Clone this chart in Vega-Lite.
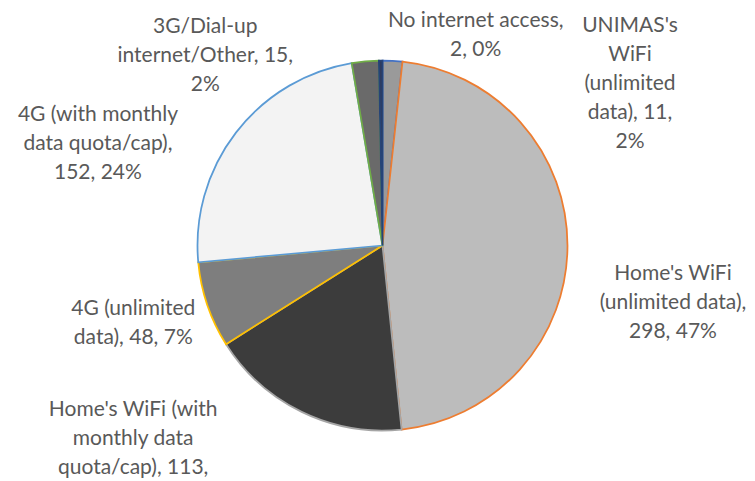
{
  "$schema": "https://vega.github.io/schema/vega-lite/v6.json",
  "width": 745,
  "height": 467,
  "autosize": "none",
  "padding": {"left": 10, "top": 12, "right": 0, "bottom": 0},
  "background": "white",
  "view": {"stroke": null},
  "data": {
    "values": [
      {"idx": 1, "cat": "UNIMAS's WiFi (unlimited data)", "count": 11, "label": ["UNIMAS's", "WiFi", "(unlimited", "data), 11,", "2%"]},
      {"idx": 2, "cat": "Home's WiFi (unlimited data)", "count": 298, "label": ["Home's WiFi", "(unlimited data),", "298, 47%"]},
      {"idx": 3, "cat": "Home's WiFi (with monthly data quota/cap)", "count": 113, "label": ["Home's WiFi (with", "monthly data", "quota/cap), 113,"]},
      {"idx": 4, "cat": "4G (unlimited data)", "count": 48, "label": ["4G (unlimited", "data), 48, 7%"]},
      {"idx": 5, "cat": "4G (with monthly data quota/cap)", "count": 152, "label": ["4G (with monthly", "data quota/cap),", "152, 24%"]},
      {"idx": 6, "cat": "3G/Dial-up internet/Other", "count": 15, "label": ["3G/Dial-up", "internet/Other, 15,", "2%"]},
      {"idx": 7, "cat": "No internet access", "count": 2, "label": ["No internet access,", "2, 0%"]}
    ]
  },
  "encoding": {
    "theta": {"field": "count", "type": "quantitative", "stack": true},
    "order": {"field": "idx", "type": "quantitative"}
  },
  "layer": [
    {
      "mark": {"type": "arc", "outerRadius": 185, "strokeWidth": 1.75, "strokeJoin": "miter"},
      "encoding": {
        "fill": {
          "field": "cat", "type": "nominal", "legend": null,
          "scale": {
            "domain": ["UNIMAS's WiFi (unlimited data)", "Home's WiFi (unlimited data)", "Home's WiFi (with monthly data quota/cap)", "4G (unlimited data)", "4G (with monthly data quota/cap)", "3G/Dial-up internet/Other", "No internet access"],
            "range": ["#9a9a9a", "#bcbcbc", "#3c3c3c", "#7e7e7e", "#f3f3f3", "#6a6a6a", "#2e3b5e"]
          }
        },
        "stroke": {
          "field": "cat", "type": "nominal", "legend": null,
          "scale": {
            "domain": ["UNIMAS's WiFi (unlimited data)", "Home's WiFi (unlimited data)", "Home's WiFi (with monthly data quota/cap)", "4G (unlimited data)", "4G (with monthly data quota/cap)", "3G/Dial-up internet/Other", "No internet access"],
            "range": ["#4472c4", "#ed7d31", "#a5a5a5", "#ffc000", "#5b9bd5", "#70ad47", "#264478"]
          }
        }
      }
    },
    {
      "mark": {"type": "text", "radius": 185, "dx": 237.5, "dy": -35, "font": "Lato", "fontSize": 21, "lineHeight": 29, "fill": "#595959", "align": "center", "baseline": "middle"},
      "encoding": {"text": {"condition": {"test": "datum.idx === 1", "field": "label"}, "value": ""}}
    },
    {
      "mark": {"type": "text", "radius": 185, "dx": 105.5, "dy": 28.5, "font": "Lato", "fontSize": 21, "lineHeight": 29, "fill": "#595959", "align": "center", "baseline": "middle"},
      "encoding": {"text": {"condition": {"test": "datum.idx === 2", "field": "label"}, "value": ""}}
    },
    {
      "mark": {"type": "text", "radius": 185, "dx": -168.5, "dy": -1.5, "font": "Lato", "fontSize": 21, "lineHeight": 29, "fill": "#595959", "align": "center", "baseline": "middle"},
      "encoding": {"text": {"condition": {"test": "datum.idx === 3", "field": "label"}, "value": ""}}
    },
    {
      "mark": {"type": "text", "radius": 185, "dx": -74, "dy": 4, "font": "Lato", "fontSize": 21, "lineHeight": 29, "fill": "#595959", "align": "center", "baseline": "middle"},
      "encoding": {"text": {"condition": {"test": "datum.idx === 4", "field": "label"}, "value": ""}}
    },
    {
      "mark": {"type": "text", "radius": 185, "dx": -138, "dy": -18, "font": "Lato", "fontSize": 21, "lineHeight": 29, "fill": "#595959", "align": "center", "baseline": "middle"},
      "encoding": {"text": {"condition": {"test": "datum.idx === 5", "field": "label"}, "value": ""}}
    },
    {
      "mark": {"type": "text", "radius": 185, "dx": -160, "dy": -34, "font": "Lato", "fontSize": 21, "lineHeight": 29, "fill": "#595959", "align": "center", "baseline": "middle"},
      "encoding": {"text": {"condition": {"test": "datum.idx === 6", "field": "label"}, "value": ""}}
    },
    {
      "mark": {"type": "text", "radius": 185, "dx": 95, "dy": -40, "font": "Lato", "fontSize": 21, "lineHeight": 29, "fill": "#595959", "align": "center", "baseline": "middle"},
      "encoding": {"text": {"condition": {"test": "datum.idx === 7", "field": "label"}, "value": ""}}
    }
  ]
}
